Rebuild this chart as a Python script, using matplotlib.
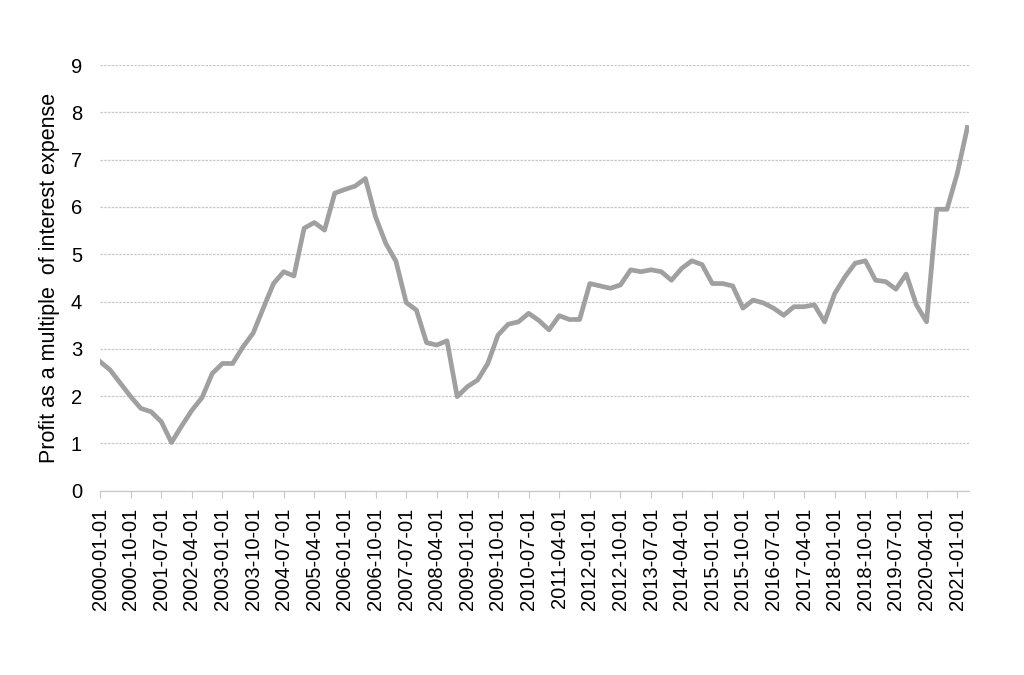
import numpy as np
import pandas as pd
import matplotlib
matplotlib.use("Agg")
import matplotlib.pyplot as plt

plt.rcParams['font.family'] = ['Liberation Sans', 'DejaVu Sans']

# quarterly observations, 2000-01-01 .. 2021-04-01
dates = pd.date_range('2000-01-01', periods=86, freq='QS')
ratio = [2.73, 2.55, 2.27, 1.99, 1.74, 1.67, 1.46, 1.02, 1.37, 1.70,
         1.97, 2.48, 2.69, 2.69, 3.04, 3.33, 3.86, 4.38, 4.63, 4.54,
         5.55, 5.67, 5.51, 6.29, 6.37, 6.44, 6.60, 5.79, 5.23, 4.85,
         3.98, 3.82, 3.13, 3.08, 3.17, 1.99, 2.20, 2.34, 2.69, 3.29,
         3.52, 3.57, 3.75, 3.60, 3.40, 3.70, 3.62, 3.62, 4.38, 4.33,
         4.28, 4.35, 4.67, 4.63, 4.67, 4.63, 4.45, 4.70, 4.86, 4.78,
         4.38, 4.38, 4.33, 3.86, 4.03, 3.97, 3.86, 3.71, 3.89, 3.89,
         3.93, 3.57, 4.17, 4.52, 4.81, 4.86, 4.45, 4.42, 4.26, 4.58,
         3.93, 3.57, 5.95, 5.95, 6.70, 7.68]
labels = [d.strftime('%Y-%m-%d') for d in dates]
y_ticks = list(range(0, 10))

fig = plt.figure(figsize=(10.24, 6.75), dpi=100)
ax = fig.add_axes([0.0977, 0.273, 0.849, 0.6307])

x = np.arange(len(ratio))
ax.plot(x, ratio, color='#a0a0a0', lw=3.4, solid_joinstyle='round', zorder=3)

ax.set_xlim(0, len(ratio) - 0.8)
ax.set_ylim(0, 9)
ax.set_yticks(y_ticks)
ax.set_xticks(x[::3])
ax.set_xticklabels(labels[::3], rotation=90, fontsize=14.5)
ax.tick_params(axis='y', length=0, pad=13, labelsize=14.5)
ax.tick_params(axis='x', length=5, width=0.8, color='#c8c8c8', pad=7)

ax.grid(axis='y', color='#c8c8c8', lw=0.9, ls=(0, (2, 1)))
for s in ['top', 'right', 'left']:
    ax.spines[s].set_visible(False)
ax.spines['bottom'].set_color('#c8c8c8')
ax.spines['bottom'].set_linestyle((0, (2, 1)))
ax.spines['bottom'].set_linewidth(0.9)

ax.set_ylabel('Profit as a multiple  of interest expense', fontsize=15.5, labelpad=8)

fig.savefig('out.png', dpi=100)
